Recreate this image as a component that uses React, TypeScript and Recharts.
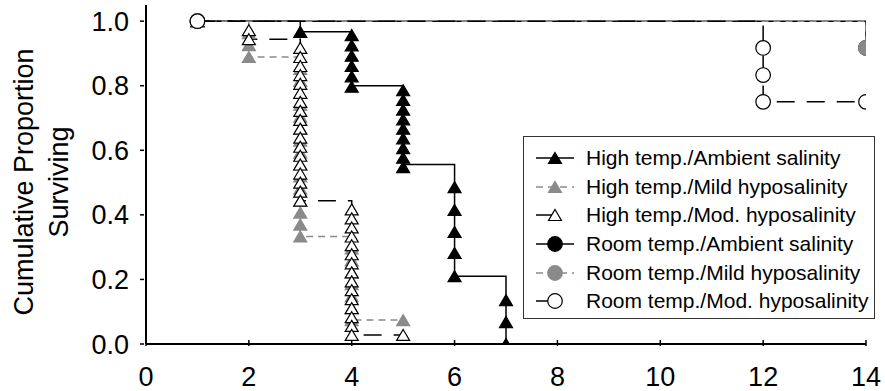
import { ComposedChart, Legend, Line, Scatter, XAxis, YAxis } from "recharts";

type Mark = [number, number];

const xTicks = [0, 2, 4, 6, 8, 10, 12, 14];
const yTicks = [0, 0.2, 0.4, 0.6, 0.8, 1.0];

// step curves: day of each change and the proportion left after it
const hiAmbDays = [1, 3, 4, 5, 6, 7];
const hiAmbSurv = [1, 0.967, 0.8, 0.556, 0.21, 0];
const hiMildDays = [1, 2, 3, 4, 5];
const hiMildSurv = [1, 0.889, 0.333, 0.074, 0.074];
const hiModDays = [1, 2, 3, 4, 5];
const hiModSurv = [1, 0.944, 0.444, 0.028, 0.028];
const rmAmbDays = [1, 14];
const rmAmbSurv = [1, 0.917];
const rmMildDays = [1, 14];
const rmMildSurv = [1, 0.917];
const rmModDays = [1, 12, 14];
const rmModSurv = [1, 0.75, 0.75];

// symbols drawn on the curves: [day, proportion]
const hiAmbMarks: Mark[] = [
    [1, 1], [3, 0.967],
    [4, 0.957], [4, 0.925], [4, 0.893], [4, 0.861], [4, 0.829], [4, 0.797],
    [5, 0.786], [5, 0.756], [5, 0.726], [5, 0.696], [5, 0.667], [5, 0.637], [5, 0.607], [5, 0.577], [5, 0.548],
    [6, 0.486], [6, 0.415], [6, 0.347], [6, 0.282], [6, 0.21],
    [7, 0.136], [7, 0.068], [7, 0],
];
const hiMildMarks: Mark[] = [
    [1, 1],
    [2, 0.963], [2, 0.926], [2, 0.889],
    [3, 0.852], [3, 0.815], [3, 0.778], [3, 0.741], [3, 0.704], [3, 0.667], [3, 0.63], [3, 0.593],
    [3, 0.556], [3, 0.519], [3, 0.481], [3, 0.444], [3, 0.407], [3, 0.37], [3, 0.333],
    [4, 0.296], [4, 0.259], [4, 0.222], [4, 0.185], [4, 0.148], [4, 0.111], [4, 0.074],
    [5, 0.074],
];
const hiModMarks: Mark[] = [
    [1, 1],
    [2, 0.972], [2, 0.944],
    [3, 0.917], [3, 0.889], [3, 0.861], [3, 0.833], [3, 0.806], [3, 0.778], [3, 0.75], [3, 0.722], [3, 0.694],
    [3, 0.667], [3, 0.639], [3, 0.611], [3, 0.583], [3, 0.556], [3, 0.528], [3, 0.5], [3, 0.472], [3, 0.444],
    [4, 0.417], [4, 0.389], [4, 0.361], [4, 0.333], [4, 0.306], [4, 0.278], [4, 0.25], [4, 0.222],
    [4, 0.194], [4, 0.167], [4, 0.139], [4, 0.111], [4, 0.083], [4, 0.056], [4, 0.028],
    [5, 0.028],
];
const rmAmbMarks: Mark[] = [[1, 1], [14, 0.917]];
const rmMildMarks: Mark[] = [[1, 1], [14, 0.917]];
const rmModMarks: Mark[] = [[1, 1], [12, 0.917], [12, 0.833], [12, 0.75], [14, 0.75]];

const seriesNames = [
    "High temp./Ambient salinity",
    "High temp./Mild hyposalinity",
    "High temp./Mod. hyposalinity",
    "Room temp./Ambient salinity",
    "Room temp./Mild hyposalinity",
    "Room temp./Mod. hyposalinity",
];

const GREY = "#8a8a8a";
const FONT = '"Liberation Sans", Arial, sans-serif';

type Look = {
    line: string;
    dash?: string;
    shape: "tri" | "dot";
    fill: string;
    edge: string;
    legendLine: [number, number];
};

const looks: Look[] = [
    { line: "#000", shape: "tri", fill: "#000", edge: "#000", legendLine: [12, 50] },
    { line: GREY, dash: "7 5", shape: "tri", fill: GREY, edge: GREY, legendLine: [12, 50] },
    { line: "#000", dash: "18 12", shape: "tri", fill: "#fff", edge: "#000", legendLine: [12, 31] },
    { line: "#000", shape: "dot", fill: "#000", edge: "#000", legendLine: [12, 50] },
    { line: GREY, dash: "7 5", shape: "dot", fill: GREY, edge: GREY, legendLine: [12, 50] },
    { line: "#000", dash: "18 12", shape: "dot", fill: "#fff", edge: "#000", legendLine: [12, 31] },
];

const toCurve = (days: number[], surv: number[]) =>
    days.map((d, i) => ({ x: d, y: surv[i] }));
const toPoints = (marks: Mark[]) => marks.map(([x, y]) => ({ x, y }));

const curves = [
    toCurve(hiAmbDays, hiAmbSurv),
    toCurve(hiMildDays, hiMildSurv),
    toCurve(hiModDays, hiModSurv),
    toCurve(rmAmbDays, rmAmbSurv),
    toCurve(rmMildDays, rmMildSurv),
    toCurve(rmModDays, rmModSurv),
];
const points = [
    toPoints(hiAmbMarks),
    toPoints(hiMildMarks),
    toPoints(hiModMarks),
    toPoints(rmAmbMarks),
    toPoints(rmMildMarks),
    toPoints(rmModMarks),
];

function Symbol({ cx, cy, look }: { cx: number; cy: number; look: Look }) {
    if (look.shape === "dot") {
        return <circle cx={cx} cy={cy} r={7.3} fill={look.fill} stroke={look.edge} strokeWidth={1.2} />;
    }
    const w = 13;
    const h = 11;
    return (
        <polygon
            points={`${cx},${cy - h / 2} ${cx + w / 2},${cy + h / 2} ${cx - w / 2},${cy + h / 2}`}
            fill={look.fill}
            stroke={look.edge}
            strokeWidth={1.2}
            strokeLinejoin="miter"
        />
    );
}

function LegendBox() {
    return (
        <div
            style={{
                width: 352,
                height: 183,
                boxSizing: "border-box",
                border: "1px solid #333",
                background: "#fff",
                paddingTop: 7,
                fontFamily: FONT,
                fontSize: 21,
                color: "#000",
            }}
        >
            {seriesNames.map((name, i) => (
                <div key={name} style={{ display: "flex", alignItems: "center", height: 28.6 }}>
                    <svg width={62} height={28} style={{ flex: "none" }}>
                        <line
                            x1={looks[i].legendLine[0]}
                            x2={looks[i].legendLine[1]}
                            y1={14}
                            y2={14}
                            stroke={looks[i].line}
                            strokeWidth={1.5}
                            strokeDasharray={looks[i].shape && looks[i].line === GREY ? "7 5" : undefined}
                        />
                        <Symbol cx={31} cy={14} look={looks[i]} />
                    </svg>
                    <span style={{ whiteSpace: "nowrap" }}>{name}</span>
                </div>
            ))}
        </div>
    );
}

function XTick(props: any) {
    const { x, y, payload } = props;
    return (
        <g>
            <line x1={x} x2={x} y1={y} y2={y - 6} stroke="#000" strokeWidth={1.5} />
            <text x={x} y={y + 40} textAnchor="middle" fontFamily={FONT} fontSize={27} fill="#000">
                {payload.value}
            </text>
        </g>
    );
}

function YTick(props: any) {
    const { x, y, payload } = props;
    return (
        <g>
            <line x1={x} x2={x - 4} y1={y} y2={y} stroke="#000" strokeWidth={1.5} />
            <text x={x - 15} y={y + 9.5} textAnchor="end" fontFamily={FONT} fontSize={27} fill="#000">
                {Number(payload.value).toFixed(1)}
            </text>
        </g>
    );
}

function YTitle() {
    return (
        <g fontFamily={FONT} fontSize={27} fill="#000">
            <text transform="translate(33,182) rotate(-90)" textAnchor="middle">
                Cumulative Proportion
            </text>
            <text transform="translate(68,182) rotate(-90)" textAnchor="middle">
                Surviving
            </text>
        </g>
    );
}

export default function App() {
    return (
        <div style={{ position: "absolute", left: 0, top: 0, width: 885, height: 391, background: "#fff" }}>
            <ComposedChart
                width={885}
                height={391}
                margin={{ top: 5, right: 19, left: 0, bottom: 0 }}
            >
                <XAxis
                    dataKey="x"
                    type="number"
                    domain={[0, 14]}
                    ticks={xTicks}
                    height={47}
                    tickSize={0}
                    tickLine={false}
                    tick={<XTick />}
                    stroke="#000"
                    strokeWidth={2}
                    allowDataOverflow
                />
                <YAxis
                    type="number"
                    domain={[0, 1.05]}
                    ticks={yTicks}
                    width={146}
                    tickSize={0}
                    tickLine={false}
                    tick={<YTick />}
                    stroke="#000"
                    strokeWidth={2}
                    allowDataOverflow
                    label={{ content: () => <YTitle /> }}
                />
                {curves.map((data, i) => (
                    <Line
                        key={`line-${i}`}
                        data={data}
                        dataKey="y"
                        type="stepAfter"
                        stroke={looks[i].line}
                        strokeWidth={1.5}
                        strokeDasharray={looks[i].dash}
                        dot={false}
                        activeDot={false}
                        legendType="none"
                        isAnimationActive={false}
                    />
                ))}
                {points.map((data, i) => (
                    <Scatter
                        key={`pts-${i}`}
                        data={data}
                        dataKey="y"
                        shape={(p: any) => <Symbol cx={p.cx} cy={p.cy} look={looks[i]} />}
                        legendType="none"
                        isAnimationActive={false}
                    />
                ))}
                <Legend
                    layout="horizontal"
                    verticalAlign="middle"
                    align="center"
                    content={() => <LegendBox />}
                    wrapperStyle={{ left: 523, top: 136, width: 352, height: 183 }}
                />
            </ComposedChart>
        </div>
    );
}
